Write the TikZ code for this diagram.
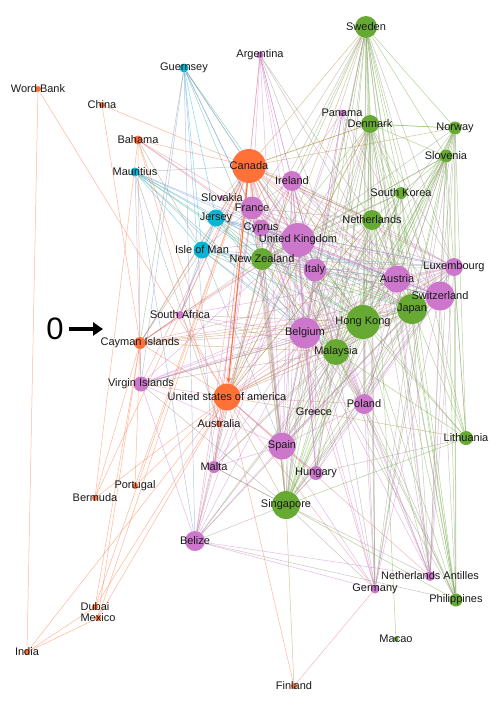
\documentclass[tikz,border=0pt]{standalone}
\usepackage{fontspec}
\setmainfont{Liberation Sans}
\usetikzlibrary{positioning, backgrounds, arrows.meta}
\definecolor{orn}{HTML}{FF7139}
\definecolor{pur}{HTML}{CC77CC}
\definecolor{grn}{HTML}{66AA33}
\definecolor{cyn}{HTML}{0DB3D4}
\tikzset{
	countrynode/.style={
			circle,
			draw=none,
			inner sep=0pt
		},
	countrytext/.style={
			font=\fontsize{11}{12}\selectfont,
			text=black!90,
			inner sep=0pt
		},
	linkedge/.style={
			line width=0.5pt,
			draw opacity=0.5
		},
	mainlink/.style={
			draw=orn,
			line width=1pt,
			-{Stealth[length=6pt,width=5pt]}
		},
	pointerarrow/.style={
			line width=3.5pt,
			-{Triangle[length=10pt,width=13pt]}
		}
}
% name/x/y/size/colour/label
\def\countries{
  wb/38/89/6/orn/Word Bank, chn/102/105/6/orn/China, bah/138/140/9/orn/Bahama,
  can/249/166/34/orn/Canada, cay/140/343/12/orn/Cayman Islands,
  usa/227/397/27/orn/United states of america, aus/219/424/6/orn/Australia,
  por/135/486/6/orn/Portugal, ber/95/498/6/orn/Bermuda, dub/95/607/6/orn/Dubai,
  mex/98/618/6/orn/Mexico, ind/27/652/6/orn/India, fin/294/686/6/orn/Finland,
  gue/184/68/9/cyn/Guernsey, mau/135/172/9/cyn/Mauritius,
  jer/216/218/17/cyn/Jersey, iom/202/250/17/cyn/Isle of Man,
  arg/260/55/7/pur/Argentina, pan/342/113/7/pur/Panama, ire/292/181/20/pur/Ireland,
  slk/222/198/5/pur/Slovakia, fra/252/208/23/pur/France, cyp/261/228/17/pur/Cyprus,
  uk/298/240/34/pur/United Kingdom, ita/315/270/23/pur/Italy,
  aut/397/279/27/pur/Austria, lux/454/267/18/pur/Luxembourg,
  swi/440/296/29/pur/Switzerland, bel/305/333/31/pur/Belgium,
  sa/180/315/8/pur/South Africa, vir/141/384/15/pur/Virgin Islands,
  pol/364/404/20/pur/Poland, gre/314/412/4/pur/Greece, spn/282/446/27/pur/Spain,
  hun/316/473/14/pur/Hungary, mlt/214/467/12/pur/Malta, bz/195/541/20/pur/Belize,
  ger/375/589/9/pur/Germany, nan/430/576/10/pur/Netherlands Antilles,
  swe/366/27/22/grn/Sweden, den/370/124/18/grn/Denmark, nor/455/128/13/grn/Norway,
  slv/446/156/13/grn/Slovenia, sk/401/193/12/grn/South Korea,
  net/372/220/20/grn/Netherlands, nz/262/259/22/grn/New Zealand,
  hk/363/322/34/grn/Hong Kong, jap/412/309/30/grn/Japan, mal/336/352/26/grn/Malaysia,
  lit/466/438/14/grn/Lithuania, sin/286/505/28/grn/Singapore,
  phi/456/600/13/grn/Philippines, mac/396/639/5/grn/Macao}
% source/{targets}
\def\links{
  wb/{ind,usa}, chn/{can,cay}, bah/{can,fra,slk,cyp,iom,cay,usa,aus},
  ber/{bah,cay,can,usa}, por/{cay,can,usa}, dub/{cay,can,usa}, mex/{cay,can,usa},
  ind/{usa,mex,dub}, fin/{usa,sin,ger},
  gue/{can,jer,iom,uk,fra,cyp,nz,vir,cay,mlt,bz,hk},
  mau/{can,jer,iom,nz,uk,cyp,ita,bel,hk,mal,vir,bz,aus},
  arg/{can,ire,uk,fra,net,hk,bel,ita,jap,spn,usa},
  pan/{uk,hk,ita,cyp,bel,swi,aut,sin},
  sa/{can,uk,hk,bel,lux,jer,iom,mal,usa,cay},
  cay/{can,usa,vir,hk,uk,bel,lux,swi,jer,iom,nz,jap,mal,sa},
  vir/{usa,hk,uk,bel,lux,swi,aut,jap,mal,sin,bz,can,spn},
  can/{fra,ire,uk,cyp,ita,nz,jer,iom,slk,bel,hk,jap,mal,aut,swi,lux,net,den,sin,spn,mlt,aus,pol,bz,ger,gre},
  usa/{uk,fra,hk,jap,bel,mal,swi,aut,lux,net,ire,ita,sin,spn,mlt,aus,bz,nz,pol,hun,ger,nan,lit,den},
  swe/{den,nor,slv,sk,net,hk,jap,mal,lit,phi,sin,swi,aut,lux,bel,uk,ire,can,nz,pol,spn,hun,ger,nan,ita,mac,usa,fra,cyp},
  den/{nor,slv,sk,net,hk,jap,mal,lit,phi,sin,swi,aut,lux,bel,uk,nz,ita,pol,spn,hun,ger,nan,can,usa},
  nor/{den,slv,hk,jap,mal,phi,lit,sin,swi,lux,aut,bel,uk,can,ger,nan,pol},
  slv/{sk,hk,jap,mal,phi,lit,sin,swi,aut,bel,uk,nz,ger,nan,spn,pol},
  sk/{net,hk,jap,mal,sin,phi,bel,uk,nz,aut},
  net/{hk,jap,mal,sin,uk,nz,bel,ita,aut,swi,lux,spn,phi,nan,ger,usa,can,fra,ire},
  ire/{uk,fra,cyp,ita,nz,bel,hk,jap,mal,aut,swi,lux,sin,spn,usa,pol,hun},
  fra/{uk,cyp,ita,nz,bel,hk,jap,mal,aut,swi,lux,sin,spn,jer,iom,mlt,bz},
  cyp/{uk,ita,nz,bel,hk,jap,mal,aut,swi,lux,sin,spn,pol},
  uk/{ita,nz,bel,hk,jap,mal,aut,swi,lux,sin,spn,pol,hun,gre,ger,nan,jer,iom,mlt,bz,lit,phi},
  ita/{nz,bel,hk,jap,mal,aut,swi,lux,sin,spn,pol,hun},
  nz/{bel,hk,jap,mal,aut,swi,lux,sin,spn,pol,jer,iom,mlt,bz},
  jer/{iom,uk,hk,bel,lux,swi,jap,mal,aut},
  iom/{hk,bel,lux,swi,jap,mal,aut,spn},
  bel/{hk,jap,mal,aut,swi,lux,sin,spn,pol,hun,ger,nan,bz,mlt,gre,phi},
  hk/{jap,mal,aut,swi,lux,sin,spn,pol,hun,ger,nan,phi,lit,bz,mlt,gre},
  jap/{mal,aut,swi,lux,sin,spn,pol,hun,ger,nan,phi,lit,bz},
  mal/{aut,swi,lux,sin,spn,pol,hun,ger,nan,phi,lit,bz,mlt},
  aut/{swi,lux,sin,spn,pol,nan,phi}, swi/{lux,sin,spn,pol,nan,phi,ger},
  lux/{sin,spn,pol,nan,phi,lit}, spn/{sin,hun,mlt,bz,ger,pol},
  sin/{hun,nan,phi,lit,bz,ger,mlt}, pol/{sin,hun,ger,nan,phi},
  hun/{lit,sin}, bz/{nan,phi,ger}, mlt/{sin,bz}}

\begin{document}
\begin{tikzpicture}[x=1pt, y=-1pt]
    \useasboundingbox (0,0) rectangle (498,705);

    % country circles
    \foreach \id/\px/\py/\dia/\clr/\lbl in \countries {
        \node[countrynode, fill=\clr, minimum size=\dia] (\id) at (\px,\py) {};
        \xglobal\colorlet{col\id}{\clr}
    }

    % country names on top
    \foreach \id/\px/\py/\dia/\clr/\lbl in \countries {
        \node[countrytext] (t\id) at (\px,\py) {\lbl};
    }

    \begin{scope}[on background layer]
        \fill[white] (0,0) rectangle (498,705);
        \foreach \src/\dsts in \links {
            \foreach \dst in \dsts {
                \draw[linkedge, draw=col\src!50!col\dst] (\src) -- (\dst);
            }
        }
        \draw[mainlink] (can) -- (usa);
    \end{scope}

    \node[font=\fontsize{31}{31}\selectfont, inner sep=1pt] (zero) at (55,329) {0};
    \coordinate (tip) at (103,329);
    \draw[pointerarrow, shorten <=4pt] (zero) -- (tip);
\end{tikzpicture}
\end{document}
